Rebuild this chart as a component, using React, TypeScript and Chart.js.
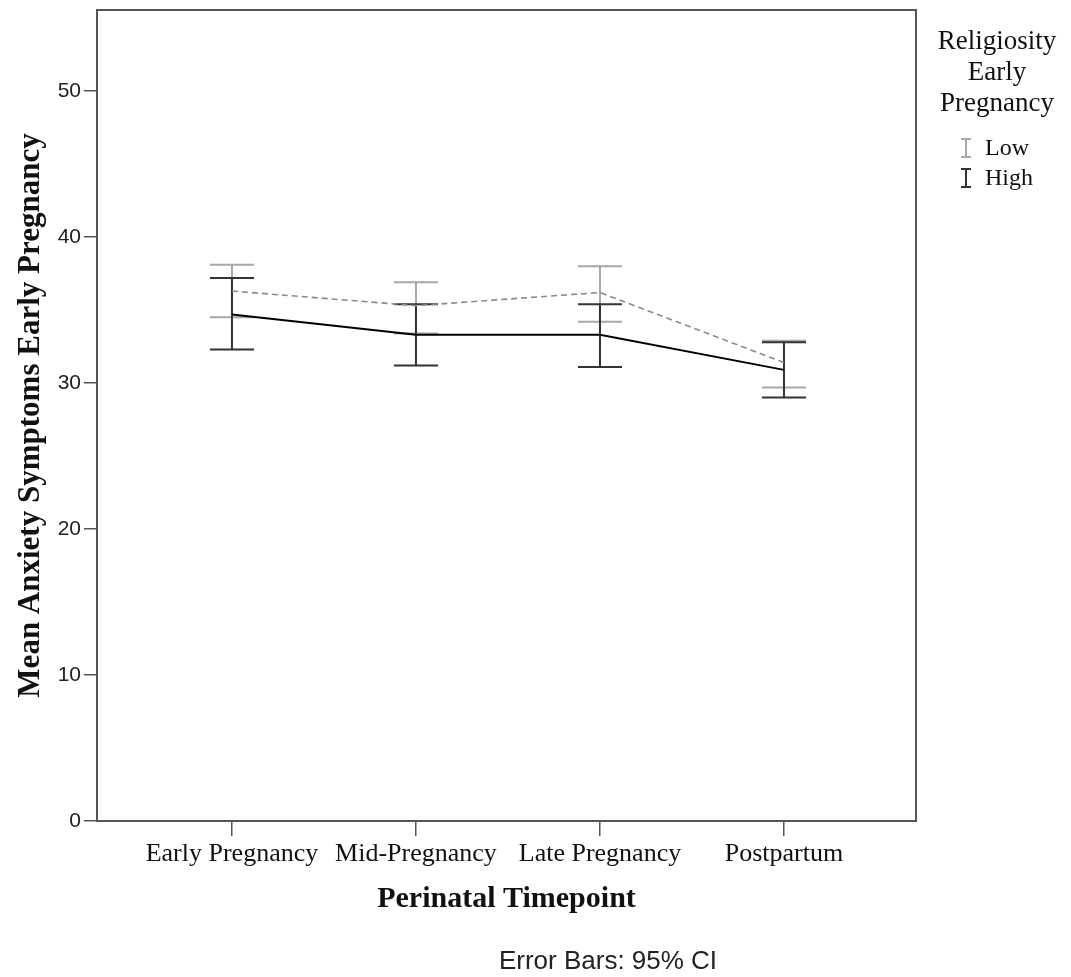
import React, { useEffect, useRef } from "react";
import { Chart, registerables } from "chart.js";

Chart.register(...registerables);

const categories = ["Early Pregnancy", "Mid-Pregnancy", "Late Pregnancy", "Postpartum"];
const lowMean = [36.3, 35.3, 36.2, 31.4];
const lowUpper = [38.1, 36.9, 38.0, 32.9];
const lowLower = [34.5, 33.4, 34.2, 29.7];
const highMean = [34.7, 33.3, 33.3, 30.9];
const highUpper = [37.2, 35.4, 35.4, 32.8];
const highLower = [32.3, 31.2, 31.1, 29.0];
const yTicks = [0, 10, 20, 30, 40, 50];
const legendTitle = ["Religiosity", "Early", "Pregnancy"];
const seriesNames = ["Low", "High"];

const LOW_BAR = "#a8a8a8";
const HIGH_BAR = "#333333";

const errorBarsPlugin = {
  id: "errorBars",
  beforeDatasetsDraw(chart: any) {
    const { ctx, scales } = chart;
    const xs = scales.x;
    const ys = scales.y;
    const draw = (upper: number[], lower: number[], color: string) => {
      ctx.save();
      ctx.strokeStyle = color;
      ctx.lineWidth = 2;
      const half = 22;
      upper.forEach((u, i) => {
        const x = xs.getPixelForValue(i);
        const yu = ys.getPixelForValue(u);
        const yl = ys.getPixelForValue(lower[i]);
        ctx.beginPath();
        ctx.moveTo(x, yu);
        ctx.lineTo(x, yl);
        ctx.moveTo(x - half, yu);
        ctx.lineTo(x + half, yu);
        ctx.moveTo(x - half, yl);
        ctx.lineTo(x + half, yl);
        ctx.stroke();
      });
      ctx.restore();
    };
    draw(lowUpper, lowLower, LOW_BAR);
    draw(highUpper, highLower, HIGH_BAR);
  },
};

const framePlugin = {
  id: "frame",
  afterDraw(chart: any) {
    const { ctx, chartArea } = chart;
    ctx.save();
    ctx.strokeStyle = "#555555";
    ctx.lineWidth = 2;
    ctx.strokeRect(chartArea.left, chartArea.top, chartArea.right - chartArea.left, chartArea.bottom - chartArea.top);

    // legend
    ctx.fillStyle = "#111111";
    ctx.textAlign = "center";
    ctx.textBaseline = "middle";
    ctx.font = "27px 'Liberation Serif'";
    legendTitle.forEach((t, i) => ctx.fillText(t, 997, 42 + i * 31));
    const colors = [LOW_BAR, HIGH_BAR];
    seriesNames.forEach((name, i) => {
      const y = 148 + i * 30;
      ctx.strokeStyle = colors[i];
      ctx.lineWidth = 2;
      ctx.beginPath();
      ctx.moveTo(966, y - 9);
      ctx.lineTo(966, y + 9);
      ctx.moveTo(961, y - 9);
      ctx.lineTo(971, y - 9);
      ctx.moveTo(961, y + 9);
      ctx.lineTo(971, y + 9);
      ctx.stroke();
      ctx.textAlign = "left";
      ctx.font = "24px 'Liberation Serif'";
      ctx.fillText(name, 985, y + 1);
    });

    // footnote
    ctx.textAlign = "center";
    ctx.font = "26px 'Liberation Sans'";
    ctx.fillStyle = "#222222";
    ctx.fillText("Error Bars: 95% CI", 608, 962);
    ctx.restore();
  },
};

export default function App() {
  const ref = useRef<HTMLCanvasElement>(null);
  useEffect(() => {
    if (!ref.current) return;
    const chart = new Chart(ref.current, {
      type: "line",
      data: {
        datasets: [
          {
            label: seriesNames[0],
            data: lowMean.map((v, i) => ({ x: i, y: v })),
            borderColor: "#8a8a8a",
            borderWidth: 1.6,
            borderDash: [6, 4],
            pointRadius: 0,
            fill: false,
          },
          {
            label: seriesNames[1],
            data: highMean.map((v, i) => ({ x: i, y: v })),
            borderColor: "#000000",
            borderWidth: 2,
            pointRadius: 0,
            fill: false,
          },
        ],
      },
      options: {
        responsive: false,
        animation: false,
        layout: { padding: { left: 12, top: 10, right: 155, bottom: 60 } },
        plugins: { legend: { display: false }, tooltip: { enabled: false } },
        scales: {
          x: {
            type: "linear",
            min: -0.7335,
            max: 3.7175,
            afterBuildTicks: (s: any) => {
              s.ticks = categories.map((_, i) => ({ value: i }));
            },
            afterFit: (s: any) => {
              s.height = 96;
              s.paddingLeft = 0;
              s.paddingRight = 0;
            },
            ticks: {
              autoSkip: false,
              maxRotation: 0,
              padding: 3,
              color: "#111111",
              font: { family: "'Liberation Serif'", size: 26 },
              callback: (v: any) => categories[Math.round(Number(v))] ?? "",
            },
            grid: { drawOnChartArea: false, tickLength: 15, color: "#555555", lineWidth: 1.5 },
            border: { display: true, color: "#555555", width: 2 },
            title: {
              display: true,
              text: "Perinatal Timepoint",
              color: "#111111",
              font: { family: "'Liberation Serif'", size: 30, weight: "bold" },
              padding: 0,
            },
          },
          y: {
            type: "linear",
            min: 0,
            max: 55.55,
            afterBuildTicks: (s: any) => {
              s.ticks = yTicks.map((v) => ({ value: v }));
            },
            afterFit: (s: any) => {
              s.width = 85;
              s.paddingTop = 0;
              s.paddingBottom = 0;
            },
            ticks: {
              padding: 3,
              color: "#222222",
              font: { family: "'Liberation Sans'", size: 21 },
            },
            grid: { drawOnChartArea: false, tickLength: 13, color: "#555555", lineWidth: 1.5 },
            border: { display: true, color: "#555555", width: 2 },
            title: {
              display: true,
              text: "Mean Anxiety Symptoms Early Pregnancy",
              color: "#111111",
              font: { family: "'Liberation Serif'", size: 31, weight: "bold" },
              padding: 0,
            },
          },
        },
      },
      plugins: [errorBarsPlugin, framePlugin],
    });
    return () => chart.destroy();
  }, []);
  return (
    <div style={{ position: "absolute", left: 0, top: 0, width: 1071, height: 977, background: "#fff" }}>
      <canvas ref={ref} width={1071} height={977} style={{ width: 1071, height: 977 }} />
    </div>
  );
}
